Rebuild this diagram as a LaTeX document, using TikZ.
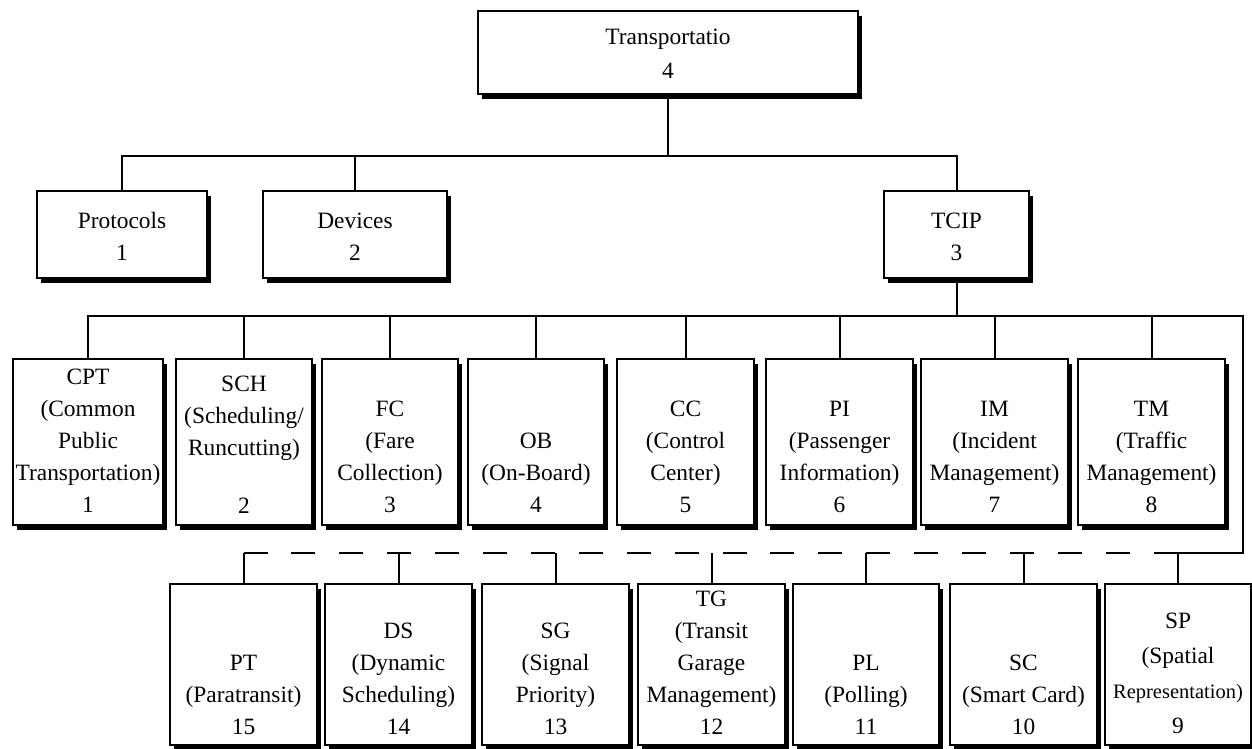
\documentclass[tikz,border=0pt]{standalone}
\usepackage{fontspec}
\setmainfont{Liberation Serif}
\usetikzlibrary{shadows}
\newcommand{\tb}[1]{\begin{tabular}{@{}c@{}}#1\end{tabular}}
\begin{document}
\begin{tikzpicture}[x=1pt,y=-1pt,
  box/.style={draw, line width=2pt, fill=white, anchor=north west, inner sep=0pt,
    drop shadow={fill=black, opacity=1, shadow xshift=4pt, shadow yshift=-5pt}},
  txt/.style={inner sep=0pt, font=\fontsize{23.4}{32}\selectfont},
  conn/.style={line width=2pt},
  dashconn/.style={line width=2pt, dash pattern=on 24pt off 23.9pt}]
\useasboundingbox (0,0) rectangle (1252,749);

% level coordinates
\coordinate (y1) at (0,156);
\coordinate (y2) at (0,316);
\coordinate (y3) at (0,553);
\coordinate (rc) at (1243,316);
\coordinate (rd) at (1243,553);
\coordinate (ds0) at (1155,553);

% boxes
\node[box, minimum width=380pt, minimum height=83pt] (top) at (477,10) {};
\node[box, minimum width=170pt, minimum height=87pt] (prot) at (36,190) {};
\node[box, minimum width=184pt, minimum height=87pt] (dev) at (262,190) {};
\node[box, minimum width=145pt, minimum height=87pt] (tcip) at (883,190) {};

\node[box, minimum width=150pt, minimum height=166pt] (cpt) at (12,358) {};
\node[box, minimum width=136pt, minimum height=166pt] (sch) at (175,358) {};
\node[box, minimum width=136pt, minimum height=166pt] (fc) at (321,358) {};
\node[box, minimum width=136pt, minimum height=166pt] (ob) at (467,358) {};
\node[box, minimum width=137pt, minimum height=166pt] (cc) at (616,358) {};
\node[box, minimum width=147pt, minimum height=166pt] (pi) at (765,358) {};
\node[box, minimum width=147pt, minimum height=166pt] (im) at (920,358) {};
\node[box, minimum width=147pt, minimum height=166pt] (tm) at (1077,358) {};

\node[box, minimum width=147pt, minimum height=161pt] (pt) at (169,583) {};
\node[box, minimum width=147pt, minimum height=161pt] (ds) at (324,583) {};
\node[box, minimum width=147pt, minimum height=161pt] (sg) at (481,583) {};
\node[box, minimum width=147pt, minimum height=161pt] (tg) at (637,583) {};
\node[box, minimum width=146pt, minimum height=161pt] (pl) at (792,583) {};
\node[box, minimum width=147pt, minimum height=161pt] (sc) at (949,583) {};
\node[box, minimum width=146pt, minimum height=161pt] (sp) at (1104,583) {};

% connectors
\draw[conn] (top.south) -- (top.south |- y1);
\draw[conn] (prot.north) |- (tcip.north |- y1) -- (tcip.north);
\draw[conn] (dev.north) -- (dev.north |- y1);
\draw[conn] (tcip.south) -- (tcip.south |- y2);
\draw[conn] (cpt.north) |- (rc) -- (rd) -- (ds0);
\foreach \n in {sch,fc,ob,cc,pi,im,tm} \draw[conn] (\n.north) -- (\n.north |- y2);
\draw[dashconn] (pt.north |- y3) -- (ds0);
\foreach \n in {pt,ds,sg,tg,pl,sc,sp} \draw[conn] (\n.north |- y3) -- (\n.north);

% texts
\node[txt] (topT) at ([yshift=-2.8pt]top.center) {\tb{Transportatio\\[2pt]4}};
\node[txt] (protT) at ([yshift=-3.8pt]prot.center) {\tb{Protocols\\1}};
\node[txt] (devT) at ([yshift=-3.8pt]dev.center) {\tb{Devices\\2}};
\node[txt] (tcipT) at ([yshift=-3.8pt]tcip.center) {\tb{TCIP\\3}};

\node[txt] (cptT) at (cpt.center) {\tb{CPT\\(Common\\Public\\Transportation)\\1}};
\node[txt] (schT) at ([yshift=-4.3pt]sch.center) {\tb{SCH\\(Scheduling/\\Runcutting)\\[26pt]2}};
\node[txt] (fcT) at (fc.center) {\tb{{}\\FC\\(Fare\\Collection)\\3}};
\node[txt] (obT) at (ob.center) {\tb{{}\\{}\\OB\\(On-Board)\\4}};
\node[txt] (ccT) at (cc.center) {\tb{{}\\CC\\(Control\\Center)\\5}};
\node[txt] (piT) at (pi.center) {\tb{{}\\PI\\(Passenger\\Information)\\6}};
\node[txt] (imT) at (im.center) {\tb{{}\\IM\\(Incident\\Management)\\7}};
\node[txt] (tmT) at (tm.center) {\tb{{}\\TM\\(Traffic\\Management)\\8}};

\node[txt] (ptT) at (pt.center) {\tb{{}\\{}\\PT\\(Paratransit)\\15}};
\node[txt] (dsT) at (ds.center) {\tb{{}\\DS\\(Dynamic\\Scheduling)\\14}};
\node[txt] (sgT) at (sg.center) {\tb{{}\\SG\\(Signal\\Priority)\\13}};
\node[txt] (tgT) at (tg.center) {\tb{TG\\(Transit\\Garage\\Management)\\12}};
\node[txt] (plT) at (pl.center) {\tb{{}\\{}\\PL\\(Polling)\\11}};
\node[txt] (scT) at (sc.center) {\tb{{}\\{}\\SC\\(Smart Card)\\10}};
\node[txt] (spT) at ([yshift=-10.3pt]sp.center) {\tb{SP\\[3pt](Spatial\\[3pt]{\fontsize{20.5}{32}\selectfont Representation)}\\[3pt]9}};
\end{tikzpicture}
\end{document}
